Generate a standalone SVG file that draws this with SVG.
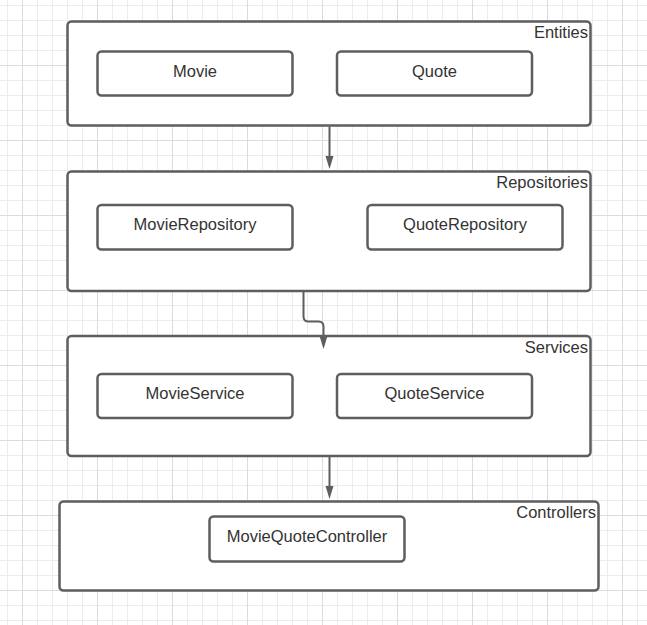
<svg xmlns="http://www.w3.org/2000/svg" width="647" height="625" viewBox="0 0 647 625">
  <defs>
    <pattern id="grid" patternUnits="userSpaceOnUse" x="22" y="65" width="75" height="75">
      <path d="M15.5 0V75M30.5 0V75M45.5 0V75M60.5 0V75M0 15.5H75M0 30.5H75M0 45.5H75M0 60.5H75" stroke="#ececec" stroke-width="1" fill="none"/>
      <path d="M0.5 0V75M0 0.5H75" stroke="#dcdcdc" stroke-width="1" fill="none"/>
    </pattern>
  </defs>
  <style>
    .box { fill: #ffffff; stroke: #5e5e5e; stroke-width: 2.5; }
    .lbl { font-family: "Liberation Sans", Arial, sans-serif; font-size: 16.5px; fill: #333333; text-anchor: middle; }
    .ttl { font-family: "Liberation Sans", Arial, sans-serif; font-size: 16.5px; fill: #333333; text-anchor: end; }
    .edge { fill: none; stroke: #5e5e5e; stroke-width: 2; }
    .head { fill: #5e5e5e; stroke: none; }
  </style>
  <rect width="647" height="625" fill="#ffffff"/>
  <rect width="647" height="625" fill="url(#grid)"/>

  <g id="entities">
    <rect class="box" x="67.5" y="21.5" width="523" height="104" rx="4"/>
    <text class="ttl" x="588" y="38">Entities</text>
  </g>
  <g id="movie">
    <rect class="box" x="97.5" y="51.5" width="195" height="44" rx="4"/>
    <text class="lbl" x="195" y="77">Movie</text>
  </g>
  <g id="quote">
    <rect class="box" x="337" y="51.5" width="195" height="44" rx="4"/>
    <text class="lbl" x="434.5" y="77">Quote</text>
  </g>

  <g id="repositories">
    <rect class="box" x="67.5" y="171.5" width="523" height="119.5" rx="4"/>
    <text class="ttl" x="588" y="188">Repositories</text>
  </g>
  <g id="movieRepository">
    <rect class="box" x="97.5" y="205" width="195" height="44.5" rx="4"/>
    <text class="lbl" x="195" y="230">MovieRepository</text>
  </g>
  <g id="quoteRepository">
    <rect class="box" x="367.5" y="205" width="195" height="44.5" rx="4"/>
    <text class="lbl" x="465" y="230">QuoteRepository</text>
  </g>

  <g id="services">
    <rect class="box" x="67.5" y="336" width="523" height="120" rx="4"/>
    <text class="ttl" x="588" y="352.5">Services</text>
  </g>
  <g id="movieService">
    <rect class="box" x="97.5" y="374" width="195" height="44" rx="4"/>
    <text class="lbl" x="195" y="399">MovieService</text>
  </g>
  <g id="quoteService">
    <rect class="box" x="337" y="374" width="195" height="44" rx="4"/>
    <text class="lbl" x="434.5" y="399">QuoteService</text>
  </g>

  <g id="controllers">
    <rect class="box" x="59.5" y="501.5" width="539" height="89" rx="4"/>
    <text class="ttl" x="596" y="518">Controllers</text>
  </g>
  <g id="movieQuoteController">
    <rect class="box" x="209.5" y="516.5" width="195" height="45" rx="4"/>
    <text class="lbl" x="307" y="542">MovieQuoteController</text>
  </g>

  <g id="connectors">
    <path class="edge" d="M329.5 126.5V158"/>
    <polygon class="head" points="325.5,156 333.5,156 329.5,169"/>
    <path class="edge" d="M303.5 291V316.5Q303.5 321.5 308.5 321.5H318.5Q323.5 321.5 323.5 326.5V338"/>
    <polygon class="head" points="319.5,336 327.5,336 323.5,349"/>
    <path class="edge" d="M329.5 456V488"/>
    <polygon class="head" points="325.5,486 333.5,486 329.5,499"/>
  </g>
</svg>
